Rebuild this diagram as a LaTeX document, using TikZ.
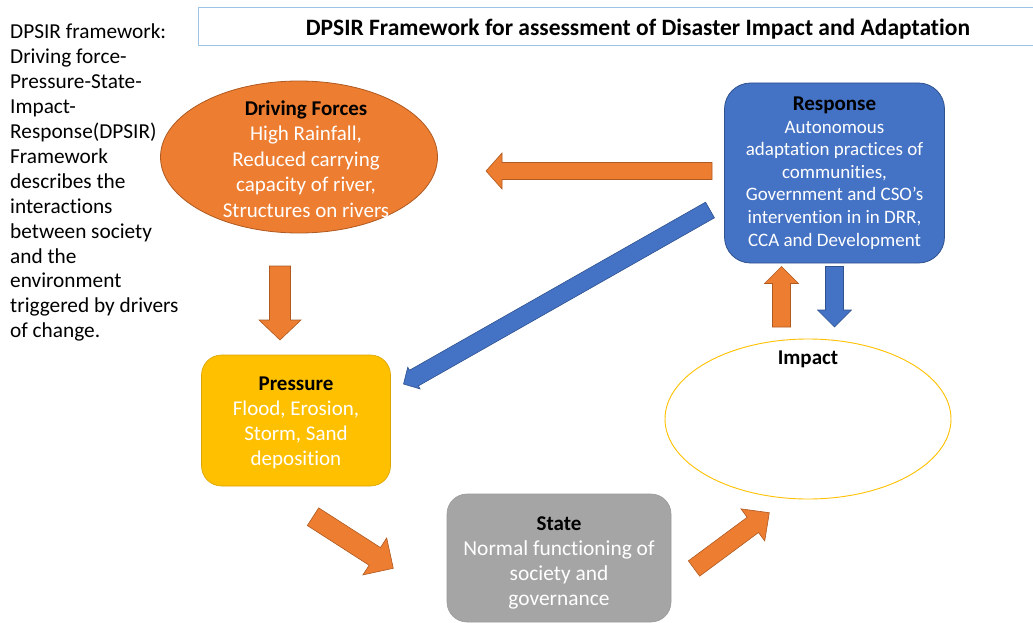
\documentclass[tikz,border=0pt]{standalone}
\usepackage{fontspec}
\setmainfont{Carlito}[Ligatures=NoCommon]
\usetikzlibrary{shapes.geometric,calc}

\definecolor{orfill}{HTML}{ED7D31}
\definecolor{ordraw}{HTML}{AE5A21}
\definecolor{bluefill}{HTML}{4472C4}
\definecolor{bluedraw}{HTML}{2F528F}
\definecolor{goldfill}{HTML}{FFC000}
\definecolor{golddraw}{HTML}{D9A300}
\definecolor{grayfill}{HTML}{A5A5A5}
\definecolor{graydraw}{HTML}{9A9A9A}
\definecolor{titleline}{HTML}{9DC3E6}

% block arrow: [style] {tail} {tip} {half shaft width} {half head width} {head length}
\newcommand\blockarrow[6][]{%
  \coordinate (ba-h) at ($(#3)!#6!(#2)$);
  \path[#1] ($(#2)!#4!90:(#3)$) -- ($(ba-h)!#4!90:(#3)$) -- ($(ba-h)!#5!90:(#3)$)
    -- (#3) -- ($(ba-h)!#5!-90:(#3)$) -- ($(ba-h)!#4!-90:(#3)$)
    -- ($(#2)!#4!-90:(#3)$) -- cycle;
}

\tikzset{
  body/.style={font=\fontsize{21}{25.2}\selectfont, align=center, text=white, inner sep=0pt},
  orarrow/.style={fill=orfill, draw=ordraw, line width=0.6pt, line join=miter},
  bluearrow/.style={fill=bluefill, draw=bluedraw, line width=0.6pt, line join=miter},
}
\newcommand\headline[1]{{\color{black}\fontsize{21}{25.2}\selectfont\bfseries #1}}

\begin{document}
\begin{tikzpicture}[x=1pt, y=-1pt]
\useasboundingbox (0,0) rectangle (1033,623);

% title bar (runs off the right edge)
\draw[titleline, line width=0.8pt] (1034,7.5) -- (198,7.5) -- (198,45) -- (1034,45);
\node[font=\fontsize{23.5}{28}\selectfont\bfseries, inner sep=0pt] (title) at (638,29)
  {DPSIR Framework for assessment of Disaster Impact and Adaptation};

% explanatory text on the left
\node[anchor=north west, align=left, inner sep=0pt, font=\fontsize{21.3}{24.9}\selectfont] (intro) at (10,24)
  {DPSIR framework:\\Driving force-\\Pressure-State-\\Impact-\\Response(DPSIR)\\Framework\\describes the\\interactions\\between society\\and the\\environment\\triggered by drivers\\of change.};

% the five stages
\node[ellipse, fill=orfill, draw=ordraw, line width=0.8pt, minimum width=277pt, minimum height=152pt, inner sep=0pt] (drive) at (299,157) {};
\node[body, font=\fontsize{21}{25.5}\selectfont] (drivetext) at (306,159)
  {\headline{Driving Forces}\\High Rainfall,\hspace*{13pt}\\Reduced carrying\\capacity of river,\\Structures on rivers};

\node[rectangle, rounded corners=26pt, body, font=\fontsize{19}{22.6}\selectfont, fill=bluefill, draw=bluedraw, line width=0.8pt, minimum width=220pt, minimum height=180pt] (resp) at (834.5,173)
  {\headline{Response}\\Autonomous\\adaptation practices of\\communities,\\Government and CSO’s\\intervention in in DRR,\\CCA and Development};

\node[rectangle, rounded corners=20pt, fill=goldfill, draw=golddraw, line width=0.6pt, minimum width=189pt, minimum height=131pt] (press) at (296,420.5) {};
\node[body] (presstext) at (296,423)
  {\headline{Pressure}\\Flood, Erosion,\\Storm, Sand\\deposition};

\node[rectangle, rounded corners=20pt, fill=grayfill, draw=graydraw, line width=0.6pt, minimum width=224pt, minimum height=128pt] (state) at (559,558) {};
\node[body, font=\fontsize{21.4}{25.2}\selectfont] (statetext) at (559,563)
  {\headline{State}\\Normal functioning of\\society and\\governance};

\node[ellipse, draw=goldfill, line width=0.9pt, minimum width=286pt, minimum height=160pt, inner sep=0pt] (impact) at (808,419) {};
\node[font=\fontsize{21}{25}\selectfont\bfseries, inner sep=0pt] (impactlabel) at (808,359) {Impact};

% arrow end points
\coordinate (a1t) at (712,171);   \coordinate (a1h) at (486,171);
\coordinate (a2t) at (280,266);   \coordinate (a2h) at (280,340);
\coordinate (a3t) at (710,210);   \coordinate (a3h) at (403.5,384);
\coordinate (a4t) at (781.5,327); \coordinate (a4h) at (781.5,266.5);
\coordinate (a5t) at (834.5,266.5); \coordinate (a5h) at (834.5,327);
\coordinate (a6t) at (313,516.7); \coordinate (a6h) at (393.3,568.3);
\coordinate (a7t) at (694,568.5); \coordinate (a7h) at (769.3,512.7);

% arrows between the stages
\blockarrow[orarrow]{a1t}{a1h}{8.5pt}{18pt}{16pt}
\blockarrow[orarrow]{a2t}{a2h}{10.5pt}{21pt}{20pt}
\blockarrow[bluearrow]{a3t}{a3h}{9pt}{12.5pt}{12pt}
\blockarrow[orarrow]{a4t}{a4h}{9pt}{17pt}{17pt}
\blockarrow[bluearrow]{a5t}{a5h}{9pt}{17pt}{17pt}
\blockarrow[orarrow]{a6t}{a6h}{10.5pt}{22pt}{22pt}
\blockarrow[orarrow]{a7t}{a7h}{9.5pt}{20pt}{20.5pt}
\end{tikzpicture}
\end{document}
